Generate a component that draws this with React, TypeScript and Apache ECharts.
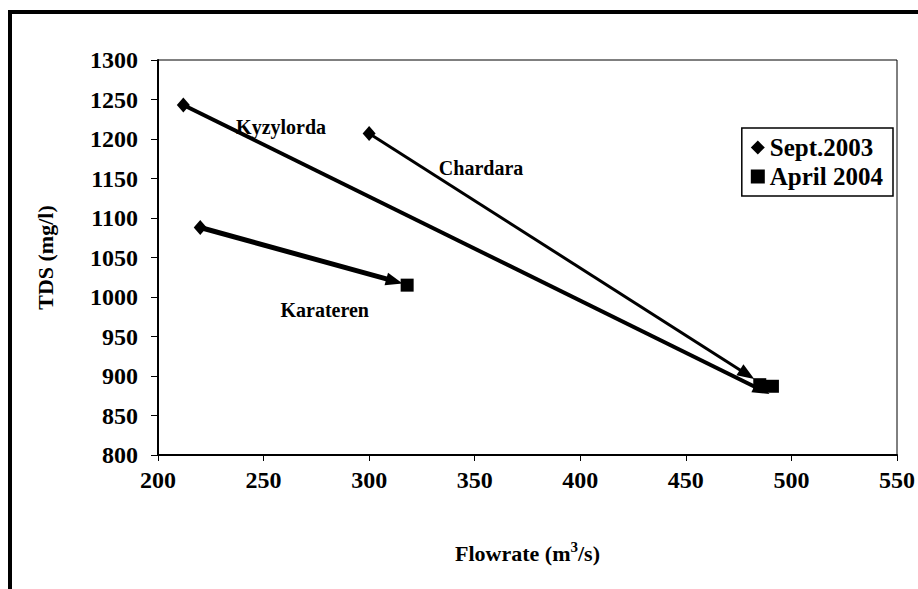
import React, { useEffect, useRef } from "react";
import * as echarts from "echarts";

const FONT = '"Liberation Serif", "Times New Roman", serif';

// Flowrate (m3/s), TDS (mg/l)
const sept2003: [number, number][] = [
  [212, 1243], // Kyzylorda
  [300, 1207], // Chardara
  [220, 1088], // Karateren
];
const april2004: [number, number][] = [
  [485, 889], // Kyzylorda
  [491, 887], // Chardara
  [318, 1015], // Karateren
];
// arrows: start -> end, line width
const arrowStarts: [number, number][] = [
  [212, 1243],
  [300, 1207],
  [220, 1088],
];
const arrowEnds: [number, number][] = [
  [486, 882],
  [479, 902],
  [312, 1020],
];
const arrowWidths = [4, 3, 5];
const stationNames = ["Kyzylorda", "Chardara", "Karateren"];
const stationLabelPos: [number, number][] = [
  [237, 1215],
  [333, 1163],
  [258, 984],
];
const xTicks = { min: 200, max: 550, interval: 50 };
const yTicks = { min: 800, max: 1300, interval: 50 };

export default function App() {
  const ref = useRef<HTMLDivElement>(null);
  useEffect(() => {
    if (!ref.current) return;
    const chart = echarts.init(ref.current, undefined, { renderer: "svg" });
    const axisLabel = { color: "#000", fontFamily: FONT, fontWeight: "bold", fontSize: 24 };
    chart.setOption({
      animation: false,
      backgroundColor: "#fff",
      grid: {
        left: 158,
        top: 60,
        right: 20,
        bottom: 134,
        show: true,
        borderColor: "#000",
        borderWidth: 1,
        backgroundColor: "transparent",
      },
      xAxis: {
        type: "value",
        min: xTicks.min,
        max: xTicks.max,
        interval: xTicks.interval,
        splitLine: { show: false },
        axisLine: { lineStyle: { color: "#000", width: 2 } },
        axisTick: { length: 6, lineStyle: { color: "#000" } },
        axisLabel: { ...axisLabel, margin: 13, formatter: (v: number) => String(v) },
        name: "Flowrate (m{sup|3}/s)",
        nameLocation: "middle",
        nameGap: 84,
        nameTextStyle: {
          ...axisLabel,
          fontSize: 22,
          rich: {
            sup: { fontSize: 15, fontFamily: FONT, fontWeight: "bold", color: "#000", padding: [0, 0, 14, 0] },
          },
        },
      },
      yAxis: {
        type: "value",
        min: yTicks.min,
        max: yTicks.max,
        interval: yTicks.interval,
        splitLine: { show: false },
        axisLine: { show: true, lineStyle: { color: "#000", width: 2 } },
        axisTick: { show: true, length: 7, lineStyle: { color: "#000" } },
        axisLabel: { ...axisLabel, margin: 20, formatter: (v: number) => String(v) },
        name: "TDS (mg/l)",
        nameLocation: "middle",
        nameGap: 102,
        nameTextStyle: { ...axisLabel, fontSize: 22 },
      },
      legend: {
        orient: "vertical",
        right: 25,
        top: 128,
        itemGap: 4,
        itemWidth: 14,
        itemHeight: 14,
        borderColor: "#000",
        borderWidth: 1.5,
        padding: [7, 10, 7, 9],
        textStyle: { color: "#000", fontFamily: FONT, fontWeight: "bold", fontSize: 25 },
        data: [
          { name: "Sept.2003", icon: "diamond", itemStyle: { color: "#000", opacity: 1 } },
          { name: "April 2004", icon: "rect", itemStyle: { color: "#000", opacity: 1 } },
        ],
      },
      graphic: [
        { type: "rect", shape: { x: 8, y: 10, width: 910, height: 4 }, style: { fill: "#000" } },
        { type: "rect", shape: { x: 8, y: 10, width: 4, height: 579 }, style: { fill: "#000" } },
      ],
      series: [
        {
          name: "arrows",
          type: "scatter",
          data: [],
          silent: true,
          markLine: {
            silent: true,
            symbol: ["none", "triangle"],
            symbolSize: [13, 17],
            label: { show: false },
            data: arrowStarts.map((s, i) => [
              { coord: s, lineStyle: { color: "#000", width: arrowWidths[i], type: "solid" } },
              { coord: arrowEnds[i] },
            ]),
            lineStyle: { color: "#000", type: "solid", opacity: 1 },
          },
          z: 2,
        },
        {
          name: "Sept.2003",
          type: "scatter",
          symbol: "diamond",
          symbolSize: [13, 15],
          itemStyle: { color: "#000", opacity: 1 },
          data: sept2003,
          z: 3,
        },
        {
          name: "April 2004",
          type: "scatter",
          symbol: "rect",
          symbolSize: 13,
          itemStyle: { color: "#000", opacity: 1 },
          data: april2004,
          z: 3,
        },
        {
          name: "labels",
          type: "scatter",
          symbolSize: 0,
          silent: true,
          itemStyle: { color: "#000", opacity: 1 },
          data: stationLabelPos.map((p, i) => ({ value: p, name: stationNames[i] })),
          label: {
            show: true,
            position: "right",
            distance: 0,
            formatter: (p: any) => p.name,
            color: "#000",
            fontFamily: FONT,
            fontWeight: "bold",
            fontSize: 20,
          },
        },
      ],
    });
    return () => chart.dispose();
  }, []);
  return (
    <div
      ref={ref}
      style={{ position: "absolute", left: 0, top: 0, width: 918, height: 589 }}
    />
  );
}
